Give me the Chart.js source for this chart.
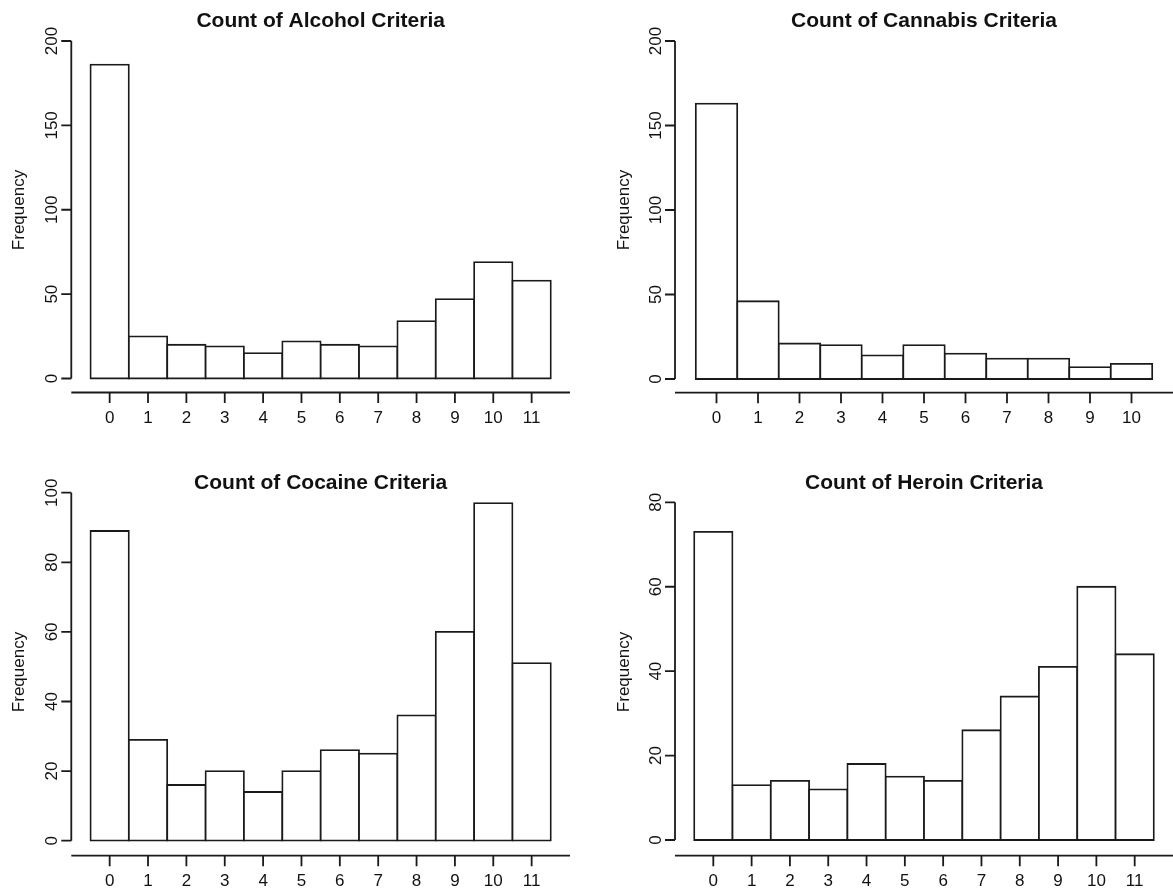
<!DOCTYPE html>
<html>
<head>
<meta charset="utf-8">
<script src="https://cdn.jsdelivr.net/npm/chart.js@4.4.1/dist/chart.umd.min.js"></script>
<style>
  html, body { margin: 0; padding: 0; background: #fff; }
  #wrap { position: relative; width: 1173px; height: 893px; overflow: hidden; }
  canvas { position: absolute; }
</style>
</head>
<body>
<div id="wrap">
  <canvas id="alcohol"></canvas>
  <canvas id="cannabis"></canvas>
  <canvas id="cocaine"></canvas>
  <canvas id="heroin"></canvas>
</div>
<script>
// criteria counts (x categories)
var criteria0to11 = [0, 1, 2, 3, 4, 5, 6, 7, 8, 9, 10, 11];
var criteria0to10 = [0, 1, 2, 3, 4, 5, 6, 7, 8, 9, 10];

// frequencies
var alcoholCounts  = [186, 25, 20, 19, 15, 22, 20, 19, 34, 47, 69, 58];
var cannabisCounts = [163, 46, 21, 20, 14, 20, 15, 12, 12, 7, 9];
var cocaineCounts  = [89, 29, 16, 20, 14, 20, 26, 25, 36, 60, 97, 51];
var heroinCounts   = [73, 13, 14, 12, 18, 15, 14, 26, 34, 41, 60, 44];

// y tick labels
var ticks0to200 = [0, 50, 100, 150, 200];
var ticks0to100 = [0, 20, 40, 60, 80, 100];
var ticks0to80  = [0, 20, 40, 60, 80];

var ink = '#1a1a1a';
var fontFam = '"Liberation Sans", Arial, Helvetica, sans-serif';

// R style detached axes, drawn from the chart's own scales
var rAxes = {
  id: 'rAxes',
  afterDraw: function (chart, args, o) {
    var ctx = chart.ctx, a = chart.chartArea;
    var xs = chart.scales.x, ys = chart.scales.y;
    var top = ys.getPixelForValue(o.yTicks[o.yTicks.length - 1]);
    var zero = ys.getPixelForValue(0);

    ctx.save();
    ctx.strokeStyle = ink;
    ctx.lineWidth = 1.8;
    ctx.beginPath();
    ctx.moveTo(a.left, zero);
    ctx.lineTo(a.left, top);
    o.yTicks.forEach(function (v) {
      var p = ys.getPixelForValue(v);
      ctx.moveTo(a.left, p);
      ctx.lineTo(a.left - 10, p);
    });
    ctx.moveTo(a.left, a.bottom);
    ctx.lineTo(a.right, a.bottom);
    o.xTicks.forEach(function (v) {
      var p = xs.getPixelForValue(v);
      ctx.moveTo(p, a.bottom);
      ctx.lineTo(p, a.bottom + 10.5);
    });
    ctx.stroke();

    ctx.fillStyle = '#111';
    // x tick labels
    ctx.font = '17px ' + fontFam;
    ctx.textAlign = 'center';
    ctx.textBaseline = 'alphabetic';
    o.xTicks.forEach(function (v) {
      ctx.fillText(String(v), xs.getPixelForValue(v), a.bottom + 30.5);
    });
    // y tick labels, parallel to the axis
    ctx.textBaseline = 'middle';
    o.yTicks.forEach(function (v) {
      var p = ys.getPixelForValue(v);
      ctx.save();
      ctx.translate(a.left - 19, p);
      ctx.rotate(-Math.PI / 2);
      ctx.fillText(String(v), 0, 0);
      ctx.restore();
    });
    // axis title
    ctx.save();
    ctx.translate(o.labelX, o.labelY);
    ctx.rotate(-Math.PI / 2);
    ctx.fillText('Frequency', 0, 0);
    ctx.restore();
    // main title
    ctx.font = 'bold 21px ' + fontFam;
    ctx.textBaseline = 'alphabetic';
    ctx.fillText(o.title, (a.left + a.right) / 2, o.titleBase);
    ctx.restore();
  }
};

// box = canvas [left, top, width, height]; area = plot [left, top, right, bottom] in page px
var panels = [
  { id: 'alcohol', title: 'Count of Alcohol Criteria', cats: criteria0to11, counts: alcoholCounts,
    yTicks: ticks0to200, xMax: 12, box: [0, 0, 587, 440], area: [71.3, 41, 570, 392.5],
    zeroGap: 14, titleBase: 26.5, labelX: 19, labelY: 210 },
  { id: 'cannabis', title: 'Count of Cannabis Criteria', cats: criteria0to10, counts: cannabisCounts,
    yTicks: ticks0to200, xMax: 11, box: [587, 0, 586, 440], area: [675, 41, 1173, 392.7],
    zeroGap: 13.7, titleBase: 26.5, labelX: 37, labelY: 210 },
  { id: 'cocaine', title: 'Count of Cocaine Criteria', cats: criteria0to11, counts: cocaineCounts,
    yTicks: ticks0to100, xMax: 12, box: [0, 440, 587, 453], area: [71.3, 492.7, 570, 855.7],
    zeroGap: 15, titleBase: 49.3, labelX: 19, labelY: 232 },
  { id: 'heroin', title: 'Count of Heroin Criteria', cats: criteria0to11, counts: heroinCounts,
    yTicks: ticks0to80, xMax: 12, box: [587, 440, 586, 453], area: [675, 502.3, 1173, 855.7],
    zeroGap: 15.7, titleBase: 49.3, labelX: 37, labelY: 232 }
];

panels.forEach(function (p) {
  var el = document.getElementById(p.id);
  el.width = p.box[2];
  el.height = p.box[3];
  el.style.left = p.box[0] + 'px';
  el.style.top = p.box[1] + 'px';

  var h = p.area[3] - p.area[1];
  var yMax = p.yTicks[p.yTicks.length - 1];
  var yMin = -p.zeroGap * yMax / (h - p.zeroGap);

  new Chart(el, {
    type: 'bar',
    data: {
      datasets: [{
        data: p.cats.map(function (c, i) { return { x: c, y: p.counts[i] }; }),
        backgroundColor: '#ffffff',
        borderColor: ink,
        borderWidth: 1.8,
        borderSkipped: false,
        inflateAmount: 0.9,
        barPercentage: 1,
        categoryPercentage: 1
      }]
    },
    options: {
      responsive: false,
      animation: false,
      devicePixelRatio: 1,
      layout: {
        padding: {
          left: p.area[0] - p.box[0],
          top: p.area[1] - p.box[1],
          right: p.box[0] + p.box[2] - p.area[2],
          bottom: p.box[1] + p.box[3] - p.area[3]
        }
      },
      scales: {
        x: { type: 'linear', offset: false, min: -1, max: p.xMax, ticks: { stepSize: 1 }, display: false },
        y: { min: yMin, max: yMax, display: false }
      },
      plugins: {
        legend: { display: false },
        tooltip: { enabled: false },
        rAxes: {
          title: p.title, yTicks: p.yTicks, xTicks: p.cats,
          titleBase: p.titleBase, labelX: p.labelX, labelY: p.labelY
        }
      }
    },
    plugins: [rAxes]
  });
});
</script>
</body>
</html>
